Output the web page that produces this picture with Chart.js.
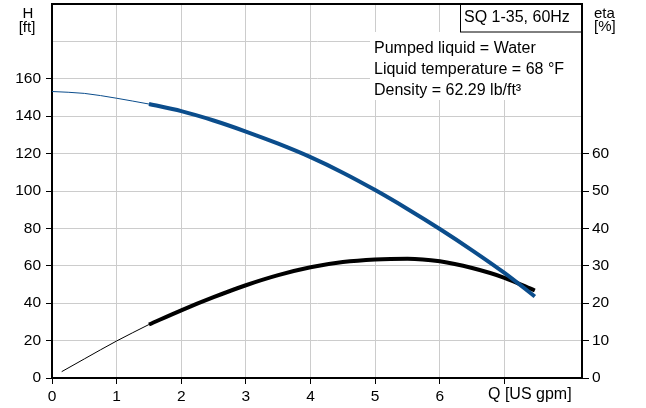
<!DOCTYPE html>
<html>
<head>
<meta charset="utf-8">
<script src="https://cdn.jsdelivr.net/npm/chart.js@4"></script>
<style>
  html, body { margin: 0; padding: 0; background: #fff; }
  #wrap { width: 646px; height: 408px; }
</style>
</head>
<body>
<div id="wrap"><canvas id="chart" width="646" height="408"></canvas></div>
<script>
// Head curve H [ft] vs Q [US gpm] (thin part outside the recommended range)
const qHeadThin = [0, 0.5, 1, 1.5];
const headThin = [153.2, 152.2, 149.6, 146.5];
const qHead = [1.5, 2, 2.5, 3, 3.5, 4, 4.5, 5, 5.5, 6, 6.5, 7, 7.47];
const head = [146.5, 142.7, 137.7, 131.8, 125.3, 118.1, 109.8, 100.5, 90.4, 79.7, 68.3, 56.2, 43.6];

// Efficiency curve eta [%]
const qEtaThin = [0.15, 0.5, 1, 1.5];
const etaThin = [1.7, 5.1, 9.9, 14.3];
const qEta = [1.5, 2, 2.5, 3, 3.5, 4, 4.5, 5, 5.5, 6, 6.5, 7, 7.47];
const eta = [14.3, 18.1, 21.6, 24.8, 27.5, 29.6, 31.0, 31.7, 31.9, 31.2, 29.4, 26.8, 23.4];

const legendTitle = 'SQ 1-35, 60Hz';
const infoLines = ['Pumped liquid = Water', 'Liquid temperature = 68 °F', 'Density = 62.29 lb/ft³'];

const FONT = '"Liberation Sans", Arial, sans-serif';
const BLUE = '#0b4d8c';

const pts = (xs, ys) => xs.map((x, i) => ({ x, y: ys[i] }));

// no extra room for the hidden end labels
const noPad = axis => {
  axis.paddingTop = 0;
  axis.paddingBottom = 0;
  axis.paddingLeft = 0;
  axis.paddingRight = 0;
};

const decor = {
  id: 'decor',
  afterDraw(chart) {
    const { ctx, chartArea: a } = chart;
    ctx.save();
    // top frame line
    ctx.strokeStyle = '#000';
    ctx.lineWidth = 2;
    ctx.beginPath();
    ctx.moveTo(a.left - 1, a.top);
    ctx.lineTo(a.right + 1, a.top);
    ctx.stroke();

    // info box
    ctx.fillStyle = '#fff';
    ctx.fillRect(370, 32, a.right - 371, 68);
    ctx.fillRect(460, a.top + 1, a.right - 461, 27);
    ctx.lineWidth = 1;
    ctx.strokeRect(460.5, a.top, a.right - 460.5, 28);

    ctx.fillStyle = '#000';
    ctx.font = '16px ' + FONT;
    ctx.textBaseline = 'alphabetic';
    ctx.textAlign = 'left';
    ctx.fillText(legendTitle, 464, 22);
    const ys = [53, 74, 95];
    infoLines.forEach((t, i) => ctx.fillText(t, 374, ys[i]));

    // axis titles
    ctx.fillText('Q [US gpm]', 488, 399);
    ctx.textAlign = 'center';
    ctx.font = '15px ' + FONT;
    ctx.fillText('H', 28, 18);
    ctx.fillText('[ft]', 27, 32);
    ctx.textAlign = 'left';
    ctx.fillText('eta', 594, 18);
    ctx.fillText('[%]', 594, 31);
    ctx.restore();
  }
};

const tickFont = { family: FONT, size: 15.5 };

new Chart(document.getElementById('chart').getContext('2d'), {
  type: 'line',
  data: {
    datasets: [
      { data: pts(qHeadThin, headThin), yAxisID: 'y', borderColor: BLUE, borderWidth: 1 },
      { data: pts(qHead, head), yAxisID: 'y', borderColor: BLUE, borderWidth: 4 },
      { data: pts(qEtaThin, etaThin), yAxisID: 'y2', borderColor: '#000', borderWidth: 1 },
      { data: pts(qEta, eta), yAxisID: 'y2', borderColor: '#000', borderWidth: 4 }
    ]
  },
  options: {
    responsive: false,
    animation: false,
    devicePixelRatio: 1,
    layout: { padding: { top: 4, right: 0, left: 0, bottom: 0 } },
    elements: {
      point: { radius: 0 },
      line: { cubicInterpolationMode: 'monotone', fill: false, borderCapStyle: 'butt' }
    },
    plugins: { legend: { display: false }, tooltip: { enabled: false } },
    scales: {
      x: {
        type: 'linear',
        min: 0,
        max: 8.2,
        afterBuildTicks: axis => { axis.ticks = axis.ticks.filter(t => Number.isInteger(t.value)); },
        afterFit: axis => { axis.height = 30; noPad(axis); },
        ticks: {
          stepSize: 1,
          color: '#000',
          font: tickFont,
          padding: 3,
          maxRotation: 0,
          callback: v => (v <= 6 ? String(v) : '')
        },
        grid: { color: '#cccccc', lineWidth: 1, tickColor: '#000', tickLength: 6 },
        border: { color: '#000', width: 2 }
      },
      y: {
        position: 'left',
        min: 0,
        max: 200,
        afterFit: axis => { axis.width = 52; noPad(axis); },
        ticks: {
          stepSize: 20,
          color: '#000',
          font: tickFont,
          padding: 5,
          callback: v => (v <= 160 ? String(v) : '')
        },
        grid: {
          color: '#cccccc',
          lineWidth: 1,
          tickLength: 6,
          tickColor: c => (c.tick && c.tick.value > 160 ? 'rgba(0,0,0,0)' : '#000')
        },
        border: { color: '#000', width: 2 }
      },
      y2: {
        position: 'right',
        min: 0,
        max: 100,
        afterFit: axis => { axis.width = 64; noPad(axis); },
        ticks: {
          stepSize: 10,
          color: '#000',
          font: tickFont,
          padding: 3,
          callback: v => (v <= 60 ? String(v) : '')
        },
        grid: {
          drawOnChartArea: false,
          tickLength: 7,
          tickColor: c => (c.tick && c.tick.value > 60 ? 'rgba(0,0,0,0)' : '#000')
        },
        border: { color: '#000', width: 2 }
      }
    }
  },
  plugins: [decor]
});
</script>
</body>
</html>
